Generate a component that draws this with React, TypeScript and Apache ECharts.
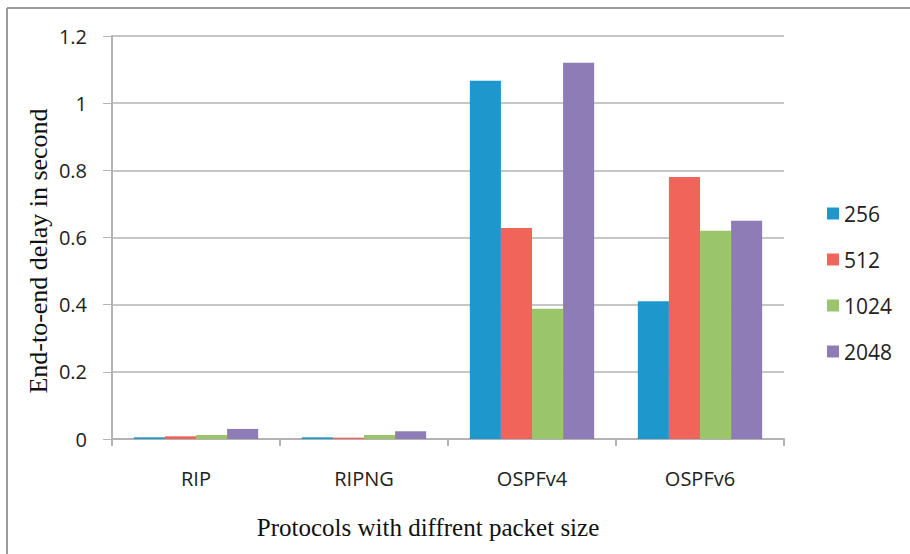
import React, { useEffect, useRef } from "react";
import * as echarts from "echarts";

const categories = ["RIP", "RIPNG", "OSPFv4", "OSPFv6"];
const seriesNames = ["256", "512", "1024", "2048"];
const s256 = [0.005, 0.005, 1.067, 0.41];
const s512 = [0.008, 0.004, 0.628, 0.78];
const s1024 = [0.012, 0.012, 0.388, 0.62];
const s2048 = [0.03, 0.023, 1.12, 0.65];
const seriesValues = [s256, s512, s1024, s2048];
const colors = ["#1e98cc", "#f16459", "#9bc56b", "#8e7cb6"];
const xTitle = "Protocols with diffrent packet size";
const yTitle = "End-to-end delay in second";

export default function App() {
  const ref = useRef<HTMLDivElement>(null);
  useEffect(() => {
    if (!ref.current) return;
    const chart = echarts.init(ref.current, undefined, { renderer: "svg" });
    chart.setOption({
      animation: false,
      backgroundColor: "#ffffff",
      graphic: [
        { type: "line", shape: { x1: 7, y1: 8, x2: 910, y2: 8 }, style: { stroke: "#9a9a9a", lineWidth: 2 } },
        { type: "line", shape: { x1: 7, y1: 8, x2: 7, y2: 554 }, style: { stroke: "#9a9a9a", lineWidth: 2 } },
        {
          type: "text",
          x: 428,
          y: 527,
          style: {
            text: xTitle,
            fontFamily: "Liberation Serif",
            fontSize: 25,
            fill: "#111",
            align: "center",
            verticalAlign: "middle",
          },
        },
        {
          type: "text",
          x: 38,
          y: 251,
          rotation: Math.PI / 2,
          style: {
            text: yTitle,
            fontFamily: "Liberation Serif",
            fontSize: 26,
            fill: "#111",
            align: "center",
            verticalAlign: "middle",
          },
        },
      ],
      grid: { left: 112, right: 126, top: 36, bottom: 115, containLabel: false },
      legend: {
        orient: "vertical",
        left: 822,
        top: 198,
        itemWidth: 12,
        itemHeight: 12,
        itemGap: 25,
        icon: "rect",
        data: seriesNames,
        textStyle: { fontFamily: "Open Sans", fontSize: 21, color: "#222" },
      },
      xAxis: {
        type: "category",
        data: categories,
        axisLine: { lineStyle: { color: "#b3b3b3", width: 2 } },
        axisTick: { show: true, length: 7, lineStyle: { color: "#b3b3b3", width: 2 } },
        axisLabel: { fontFamily: "Open Sans", fontSize: 20, color: "#222", margin: 29 },
      },
      yAxis: {
        type: "value",
        min: 0,
        max: 1.2,
        interval: 0.2,
        axisLine: { show: true, lineStyle: { color: "#b3b3b3", width: 2 } },
        axisTick: { show: true, length: 9, lineStyle: { color: "#b3b3b3", width: 1 } },
        splitLine: { lineStyle: { color: "#b3b3b3", width: 1.5 } },
        axisLabel: {
          fontFamily: "Open Sans",
          fontSize: 20,
          color: "#222",
          margin: 25,
          formatter: (v: number) => String(Math.round(v * 10) / 10),
        },
      },
      series: seriesNames.map((n, i) => ({
        name: n,
        type: "bar",
        data: seriesValues[i],
        barGap: "0%",
        barCategoryGap: "26%",
        itemStyle: { color: colors[i] },
      })),
    });
    return () => chart.dispose();
  }, []);
  return <div ref={ref} style={{ width: 910, height: 554, position: "absolute", left: 0, top: 0 }} />;
}
